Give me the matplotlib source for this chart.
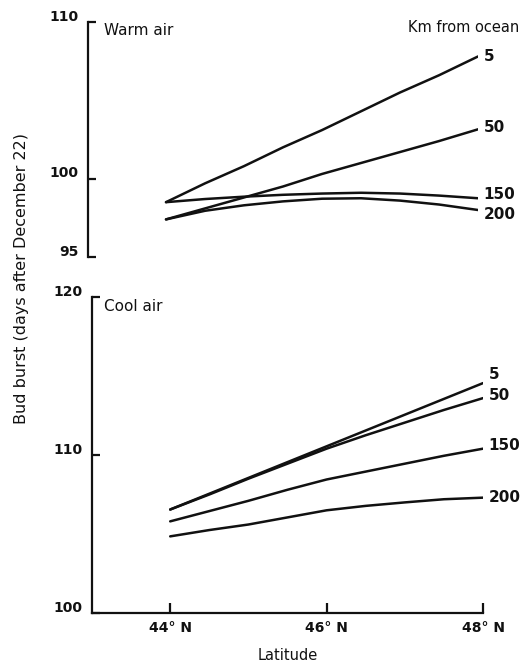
import numpy as np
import matplotlib
matplotlib.use("Agg")
import matplotlib.pyplot as plt
from matplotlib import transforms

# ================ Data ================
lat = [44.0, 44.5, 45.0, 45.5, 46.0, 46.5, 47.0, 47.5, 48.0]
km_labels = ["5", "50", "150", "200"]

warm_5   = [98.5, 99.7, 100.8, 102.0, 103.1, 104.3, 105.5, 106.6, 107.8]
warm_50  = [97.4, 98.1, 98.8, 99.5, 100.3, 101.0, 101.7, 102.4, 103.15]
warm_150 = [98.5, 98.7, 98.85, 98.97, 99.05, 99.1, 99.05, 98.92, 98.75]
warm_200 = [97.4, 97.95, 98.3, 98.55, 98.72, 98.75, 98.6, 98.35, 98.0]

cool_5   = [106.55, 107.55, 108.55, 109.55, 110.55, 111.55, 112.55, 113.55, 114.55]
cool_50  = [106.55, 107.5, 108.5, 109.45, 110.4, 111.25, 112.05, 112.85, 113.6]
cool_150 = [105.8, 106.45, 107.1, 107.8, 108.45, 108.95, 109.45, 109.95, 110.4]
cool_200 = [104.85, 105.25, 105.6, 106.05, 106.5, 106.78, 107.0, 107.2, 107.3]

warm_ticks = [95, 100, 110]
cool_ticks = [100, 110, 120]
lat_ticks  = [44, 46, 48]
lat_labels = ["44° N", "46° N", "48° N"]

# ================ Style ================
_INK = "#111111"
_FONT = "DejaVu Sans"
plt.rcParams["font.family"] = _FONT

W, H = 521, 666
fig = plt.figure(figsize=(W / 100, H / 100), dpi=100)

ax_w = fig.add_axes([88 / W, 1 - 257 / H, 390 / W, 235 / H])
ax_c = fig.add_axes([92 / W, 1 - 613 / H, 391 / W, 316 / H])


def style_axis(ax, ylim, yticks, show_x):
    ax.set_xlim(43, 48)
    ax.set_ylim(*ylim)
    for s in ("top", "right"):
        ax.spines[s].set_visible(False)
    ax.spines["left"].set_linewidth(1.6)
    ax.spines["left"].set_color(_INK)
    ax.set_yticks(yticks)
    ax.tick_params(axis="y", direction="in", length=6, width=1.6,
                   pad=7, labelsize=10, colors=_INK)
    offset = transforms.ScaledTranslation(0, 5 / 72, fig.dpi_scale_trans)
    for lbl in ax.get_yticklabels():
        lbl.set_transform(lbl.get_transform() + offset)
        lbl.set_fontweight("bold")
    if show_x:
        ax.spines["bottom"].set_linewidth(1.6)
        ax.spines["bottom"].set_color(_INK)
        ax.spines["bottom"].set_bounds(43, 48)
        ax.set_xticks(lat_ticks)
        ax.set_xticklabels(lat_labels, fontweight="bold")
        ax.tick_params(axis="x", direction="in", length=7, width=1.6,
                       pad=6, labelsize=10, colors=_INK)
    else:
        ax.spines["bottom"].set_visible(False)
        ax.set_xticks([])


style_axis(ax_w, (95, 110), warm_ticks, False)
style_axis(ax_c, (100, 120), cool_ticks, True)

warm = [warm_5, warm_50, warm_150, warm_200]
cool = [cool_5, cool_50, cool_150, cool_200]
warm_dy = [0, 1, 3, -3]
cool_dy = [6, 2, 2, 0]

for ax, series, dys in ((ax_w, warm, warm_dy), (ax_c, cool, cool_dy)):
    for vals, lab, dy in zip(series, km_labels, dys):
        ax.plot(lat, vals, color=_INK, linewidth=1.8, solid_capstyle="round")
        ax.annotate(lab, xy=(lat[-1], vals[-1]), xytext=(4, dy),
                    textcoords="offset points", va="center", ha="left",
                    fontsize=11, fontweight="bold", color=_INK,
                    annotation_clip=False)

ax_w.text(0.04, 0.965, "Warm air", transform=ax_w.transAxes,
          fontsize=11, va="center", ha="left", color=_INK)
fig.text(519 / W, 1 - 27 / H, "Km from ocean",
         fontsize=10.5, va="center", ha="right", color=_INK)
ax_c.text(0.03, 0.97, "Cool air", transform=ax_c.transAxes,
          fontsize=11, va="center", ha="left", color=_INK)

ax_c.set_xlabel("Latitude", fontsize=10.5, color=_INK, labelpad=9)
fig.text(22 / W, 1 - 279 / H, "Bud burst (days after December 22)",
         rotation=90, va="center", ha="center", fontsize=11.5, color=_INK)

fig.savefig("out.png", dpi=100)
